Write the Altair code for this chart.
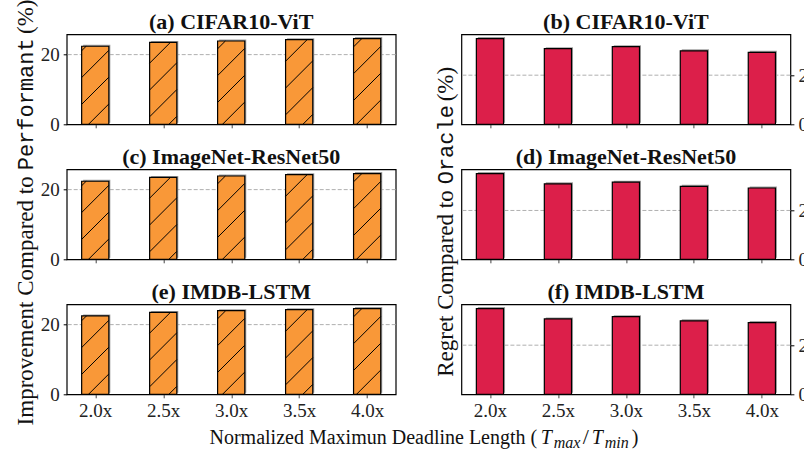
import json
import altair as alt
import pandas as pd

# Deadline-ratio categories on the x axis
ratios = ["2.0x", "2.5x", "3.0x", "3.5x", "4.0x"]

# Improvement compared to Performant (%)
impr_cifar = [22.4, 23.5, 23.9, 24.3, 24.6]
impr_imagenet = [22.4, 23.5, 23.9, 24.3, 24.6]
impr_imdb = [22.5, 23.5, 24.0, 24.3, 24.6]

# Regret compared to Oracle (%)
regret_cifar = [34.9, 30.8, 31.6, 29.9, 29.3]
regret_imagenet = [35.1, 30.9, 31.6, 29.9, 29.2]
regret_imdb = [34.9, 30.7, 31.6, 29.9, 29.2]

panel_titles = [
    "(a) CIFAR10-ViT", "(b) CIFAR10-ViT",
    "(c) ImageNet-ResNet50", "(d) ImageNet-ResNet50",
    "(e) IMDB-LSTM", "(f) IMDB-LSTM",
]
y_ticks = [0, 20]
ref_line = 20

SERIF = "Liberation Serif"
MONO = "Liberation Mono"
ORANGE = "#F99838"
CRIMSON = "#DC1F4A"

W, H = 329, 90
XMIN, XMAX = -0.42, 4.42
HALF = 0.2
HATCH_STEP = 26.8   # px between hatch lines
HATCH_OFF = 5.0

label_expr = json.dumps(ratios) + "[datum.value]"


def label(text, x, y, font=SERIF, size=23, align="left", angle=0,
          italic=False, bold=False):
    props = dict(font=font, fontSize=size, align=align,
                 baseline="alphabetic", color="#111")
    if angle:
        props["angle"] = angle
    if italic:
        props["fontStyle"] = "italic"
    if bold:
        props["fontWeight"] = "bold"
    return alt.Chart(pd.DataFrame({"t": [text]})).mark_text(**props).encode(
        text="t:N", x=alt.value(x), y=alt.value(y))


def panel(values, title, color, hatch, orient, xlabels, extra=()):
    ymax = max(values) * 1.05
    sx = W / (XMAX - XMIN)
    sy = H / ymax
    df = pd.DataFrame({"pos": range(len(ratios)), "ratio": ratios, "value": values})
    df["x0"] = df["pos"] - HALF
    df["x1"] = df["pos"] + HALF
    df["zero"] = 0.0
    # soft drop shadow, 1.5px right and up
    df["sx0"] = df["x0"] + 1.5 / sx
    df["sx1"] = df["x1"] + 1.5 / sx
    df["sy0"] = 1.5 / sy
    df["sy1"] = df["value"] + 1.5 / sy

    xscale = alt.Scale(domain=[XMIN, XMAX], nice=False, zero=False)
    yscale = alt.Scale(domain=[0, ymax], nice=False, zero=True)
    xaxis = alt.Axis(values=list(range(len(ratios))), labelExpr=label_expr,
                     labels=xlabels, title=None, grid=False, domain=False,
                     tickSize=3.5, tickColor="#444", tickWidth=1,
                     labelFont=SERIF, labelFontSize=19, labelColor="#222",
                     labelPadding=3.5)
    yaxis = alt.Axis(values=y_ticks, orient=orient, title=None, grid=False,
                     domain=False, tickSize=3.5, tickColor="black",
                     labelFont=SERIF, labelFontSize=19, labelColor="#222",
                     labelPadding=4)

    # dashed reference line behind the bars
    guide = alt.Chart(pd.DataFrame({"g": [ref_line]})).mark_rule(
        color="#b0b0b0", strokeWidth=1, strokeDash=[4, 2]
    ).encode(y=alt.Y("g:Q", scale=yscale, axis=yaxis))

    base = alt.Chart(df)
    shadow = base.mark_rect(color="#a0a0a0").encode(
        x=alt.X("sx0:Q", scale=xscale, axis=xaxis), x2="sx1",
        y=alt.Y("sy0:Q", scale=yscale, axis=yaxis), y2="sy1")
    bars = base.mark_rect(fill=color, stroke="black", strokeWidth=1.2).encode(
        x=alt.X("x0:Q", scale=xscale, axis=xaxis), x2="x1",
        y=alt.Y("zero:Q", scale=yscale, axis=yaxis), y2="value")
    layers = [guide, shadow, bars]

    if hatch:
        segs = []
        for i, v in enumerate(values):
            xa = (i - HALF - XMIN) * sx
            xb = (i + HALF - XMIN) * sx
            yt = v * sy
            k = int((-xb - HATCH_OFF) // HATCH_STEP) - 1
            while True:
                c = HATCH_OFF + k * HATCH_STEP
                if c > yt - xa:
                    break
                lo = max(xa, -c)
                hi = min(xb, yt - c)
                if hi - lo > 0.5:
                    segs.append({"hx0": lo / sx + XMIN, "hx1": hi / sx + XMIN,
                                 "hy0": (lo + c) / sy, "hy1": (hi + c) / sy})
                k += 1
        hatch_df = pd.DataFrame(segs)
        lines = alt.Chart(hatch_df).mark_rule(color="black", strokeWidth=1).encode(
            x=alt.X("hx0:Q", scale=xscale, axis=xaxis), x2="hx1",
            y=alt.Y("hy0:Q", scale=yscale, axis=yaxis), y2="hy1")
        layers.append(lines)

    # panel caption above the frame
    layers.append(label(title, W / 2, -5, size=22, align="center", bold=True))
    layers.extend(extra)
    return alt.layer(*layers).properties(width=W, height=H)


# left y-axis caption (mixed serif / typewriter)
left_caption = [
    label("Improvement Compared to", -33.4, 7, align="right", angle=270),
    label("Performant", -33.4, 1, font=MONO, size=22, angle=270),
    label("(%)", -33.4, -135.3, angle=270),
]
# right y-axis caption
right_caption = [
    label("Regret Compared to", -8.7, 21, align="right", angle=270),
    label("Oracle", -8.7, 15, font=MONO, size=22, angle=270),
    label("(%)", -8.7, -68, angle=270),
]
# shared x-axis caption with T_max / T_min
XB = 139.5
x_caption = [
    label("Normalized Maximun Deadline Length (", 470.5, XB, size=20, align="right"),
    label("T", 474, XB, size=20, italic=True),
    label("max", 487, XB + 4, size=16, italic=True),
    label("/", 516, XB, size=22),
    label("T", 525, XB, size=20, italic=True),
    label("min", 538, XB + 4, size=16, italic=True),
    label(")", 565, XB, size=20),
]

pa = panel(impr_cifar, panel_titles[0], ORANGE, True, "left", False)
pb = panel(regret_cifar, panel_titles[1], CRIMSON, False, "right", False)
pc = panel(impr_imagenet, panel_titles[2], ORANGE, True, "left", False, left_caption)
pd_ = panel(regret_imagenet, panel_titles[3], CRIMSON, False, "right", False, right_caption)
pe = panel(impr_imdb, panel_titles[4], ORANGE, True, "left", True, x_caption)
pf = panel(regret_imdb, panel_titles[5], CRIMSON, False, "right", True)

chart = alt.concat(
    pa, pb, pc, pd_, pe, pf, columns=2,
    spacing={"row": 45, "column": 65.7}, bounds="flush",
).properties(
    autosize=alt.AutoSizeParams(type="none"),
    padding={"left": 66.7, "top": 34.3, "right": 737.3, "bottom": 420.7},
).configure(
    background="white"
).configure_view(
    stroke="black", strokeWidth=1.2
)

chart.save("out.html", embed_options={"renderer": "svg", "actions": False})
